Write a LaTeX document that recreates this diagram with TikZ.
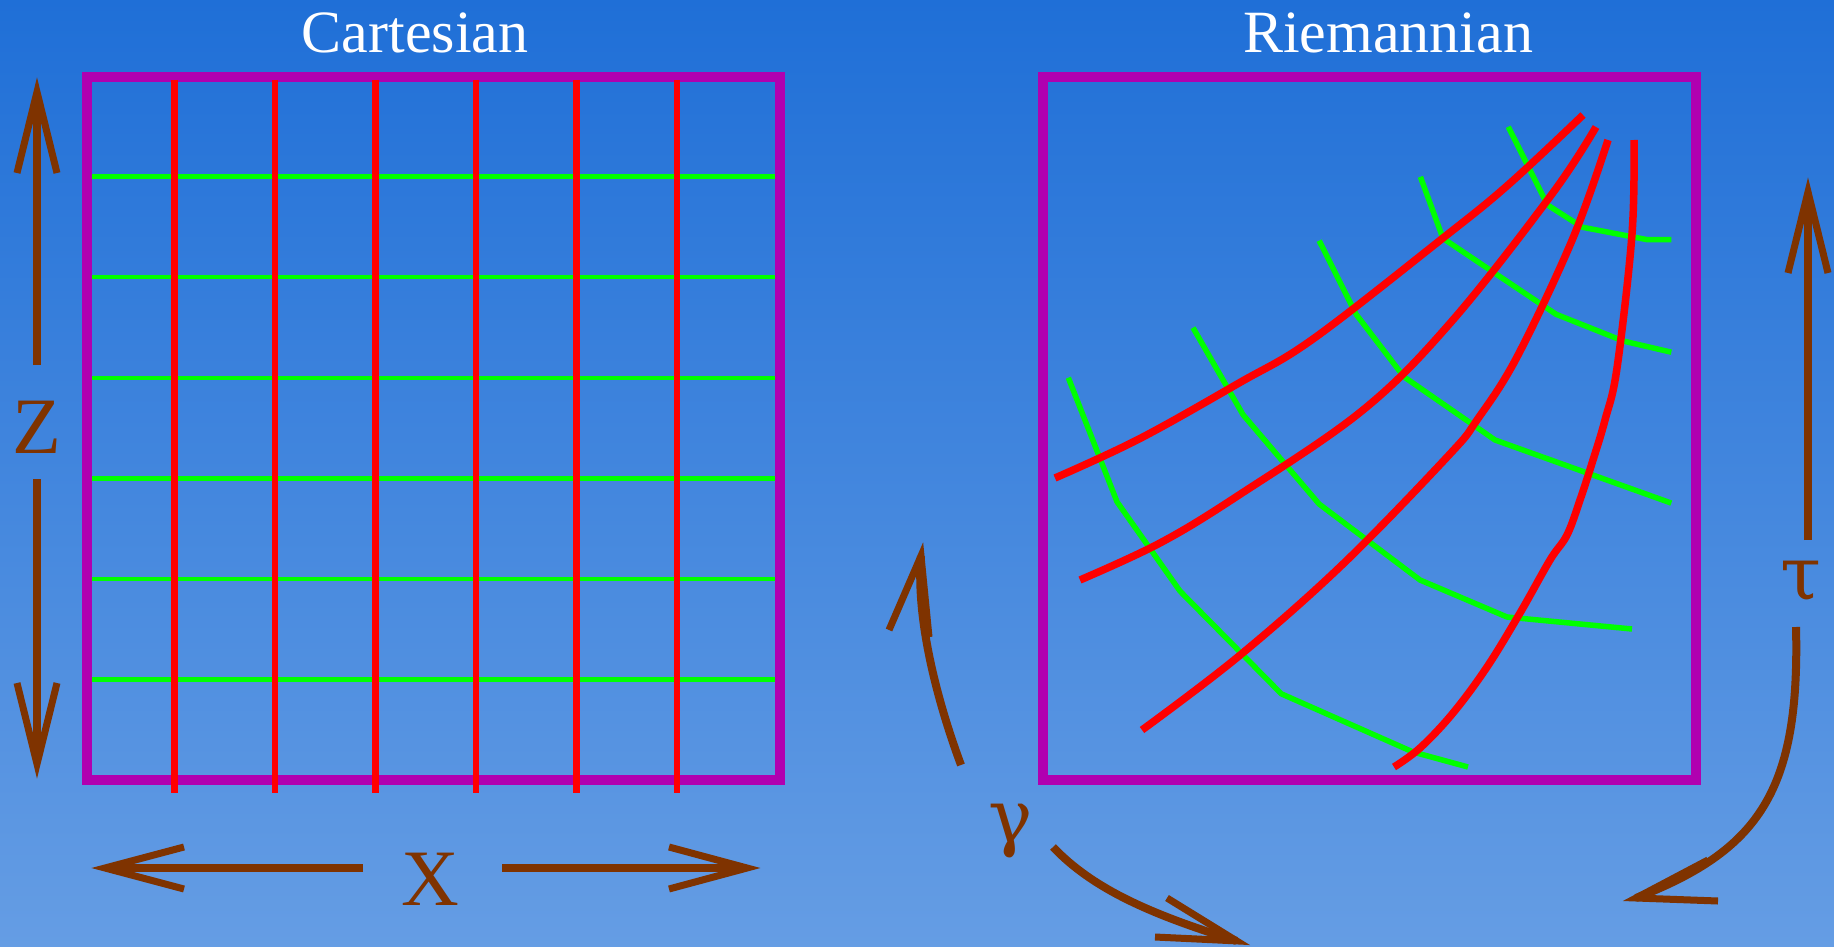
\documentclass[tikz,border=0pt]{standalone}
\usepackage{fontspec}
\setmainfont{Liberation Serif}
\newfontfamily\grk{DejaVu Serif}
\definecolor{bgtop}{RGB}{31,111,215}
\definecolor{bgbot}{RGB}{101,157,228}
\definecolor{brn}{RGB}{127,51,0}
\definecolor{frm}{RGB}{176,0,176}
\begin{document}
\begin{tikzpicture}[x=1pt,y=-1pt,
  framebox/.style={draw=frm,line width=10pt},
  redl/.style={draw=red,line width=6.5pt},
  grnl/.style={draw=green,line width=4.5pt,line join=round},
  redr/.style={draw=red,line width=7.5pt},
  grnr/.style={draw=green,line width=5.5pt,line join=round},
  shaft/.style={draw=brn,line width=8pt},
  head/.style={draw=brn,line width=7pt,line join=miter,miter limit=10},
  ttl/.style={text=white,font=\fontsize{60}{72}\selectfont,inner sep=0pt,anchor=base},
  lbl/.style={text=brn,font=\fontsize{80}{96}\selectfont,inner sep=0pt},
  glbl/.style={text=brn,font=\grk\fontsize{74}{90}\selectfont,inner sep=0pt}]
\shade[top color=bgtop,bottom color=bgbot] (0,0) rectangle (1834,947);
\useasboundingbox (0,0) rectangle (1834,947);

% titles
\node[ttl] (tcart) at (415,53) {Cartesian};
\node[ttl] (triem) at (1388,53) {Riemannian};

% ---------- Cartesian grid ----------
\draw[framebox] (87,77) rectangle (780,780);
\foreach \y in {176.6,277.2,377.8,478.4,579,679.5}
  \draw[grnl] (92,\y) -- (775,\y);
\foreach \x in {174.3,274.9,375.4,476,576.6,677.2}
  \draw[redl] (\x,80) -- (\x,793);

% ---------- Riemannian grid ----------
\draw[framebox] (1043,77) rectangle (1696,780);
\draw[grnr] (1068.3,377.7) -- (1117,501.8) -- (1180,591.1) -- (1281.3,693.8) -- (1413,752) -- (1468,767);
\draw[grnr] (1193,327.7) -- (1243,414.7) -- (1319.1,504) -- (1420,580) -- (1507,617) -- (1632,629);
\draw[grnr] (1319.1,240.6) -- (1356.1,314.3) -- (1403.9,376.8) -- (1495,440) -- (1671.3,503.1);
\draw[grnr] (1420.4,176.8) -- (1443,238.4) -- (1556.1,314.3) -- (1623.5,341.1) -- (1671.3,352.2);
\draw[grnr] (1508.3,126.8) -- (1547.4,204.9) -- (1582.2,227.2) -- (1647.4,239.7) -- (1671.3,239.7);

\draw[redr] plot[smooth,tension=0.6] coordinates {(1055,478) (1139,439) (1239,383) (1313,339) (1443,238) (1508,185) (1583,115)};
\draw[redr] plot[smooth,tension=0.6] coordinates {(1080,580) (1160,543) (1239,495) (1363,410) (1452,321) (1552,194) (1596,127)};
\draw[redr] plot[smooth,tension=0.6] coordinates {(1142,730) (1239,656) (1343,564) (1449,455) (1477,420) (1517,357) (1573,238) (1608,140)};
\draw[redr] plot[smooth,tension=0.6] coordinates {(1394,767) (1420,748) (1453,713) (1487,667) (1520,613) (1550,560) (1567,535) (1580,500) (1593,460) (1605,420) (1617,368) (1632,234) (1634,140)};

% ---------- labels ----------
\node[lbl] (z) at (37,427) {Z};
\node[lbl] (xl) at (430,879) {X};
\node[glbl] (g) at (1011,831) {γ};
\node[glbl] (t) at (1801,582) {τ};

% ---------- Z arrows ----------
\coordinate (zut) at (37,365); \coordinate (zuh) at (37,94);
\draw[shaft] (zut) -- (zuh);
\draw[head] (17,173) -- (37,92) -- (57,173);
\coordinate (zdt) at (37,479); \coordinate (zdh) at (37,762);
\draw[shaft] (zdt) -- (zdh);
\draw[head] (17,683) -- (37,764) -- (57,683);

% ---------- X arrows ----------
\coordinate (xlt) at (363,868); \coordinate (xlh) at (107,868);
\draw[shaft] (xlt) -- (xlh);
\draw[head] (184,847) -- (105,868) -- (184,889);
\coordinate (xrt) at (502,868); \coordinate (xrh) at (745,868);
\draw[shaft] (xrt) -- (xrh);
\draw[head] (669,847) -- (747,868) -- (669,889);

% ---------- tau arrows ----------
\coordinate (tut) at (1808,540); \coordinate (tuh) at (1808,194);
\draw[shaft] (tut) -- (tuh);
\draw[head] (1788,273) -- (1808,192) -- (1828,273);
\coordinate (tdt) at (1796,627); \coordinate (tdh) at (1636,898);
\draw[shaft] (tdt) .. controls (1800,790) and (1760,850) .. (tdh);
\draw[head] (1708,860) -- (1636,898) -- (1718,901);

% ---------- gamma arrows ----------
\coordinate (gut) at (961,765); \coordinate (guh) at (921,556);
\draw[shaft] (gut) .. controls (945,722) and (915,630) .. (guh);
\draw[head] (889,630) -- (921,556) -- (929,637);
\coordinate (gdt) at (1053,847); \coordinate (gdh) at (1236.6,940.9);
\draw[shaft] (gdt) .. controls (1093,889) and (1150.6,914.3) .. (gdh);
\draw[head] (1167,898) -- (1236.6,940.9) -- (1155,937);
\end{tikzpicture}
\end{document}
